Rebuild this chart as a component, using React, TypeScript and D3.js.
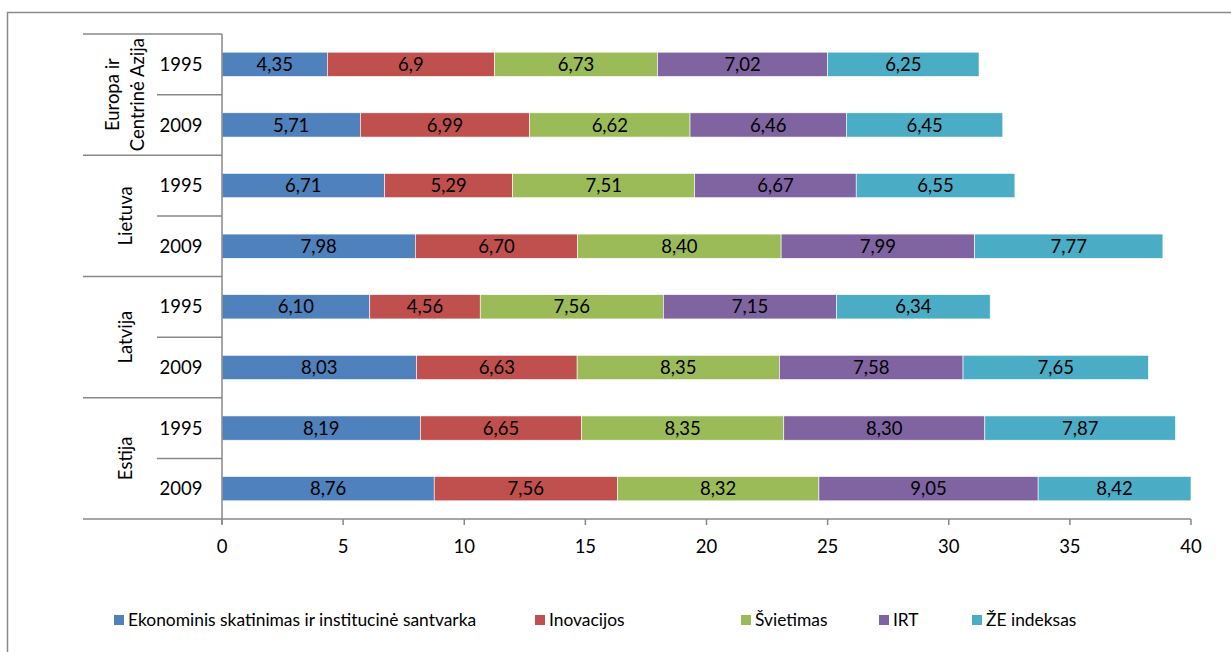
import React from "react";
import * as d3 from "d3";

const groups = ["Europa ir Centrinė Azija", "Lietuva", "Latvija", "Estija"];
const groupLines = [["Europa ir", "Centrinė Azija"], ["Lietuva"], ["Latvija"], ["Estija"]];
const years = ["1995", "2009"];
const seriesNames = [
  "Ekonominis skatinimas ir institucinė santvarka",
  "Inovacijos",
  "Švietimas",
  "IRT",
  "ŽE indeksas",
];
const colors = ["#4F81BD", "#C0504D", "#9BBB59", "#8064A2", "#4BACC6"];

// rows top to bottom: group x year
const ekonominis = [4.35, 5.71, 6.71, 7.98, 6.1, 8.03, 8.19, 8.76];
const inovacijos = [6.9, 6.99, 5.29, 6.7, 4.56, 6.63, 6.65, 7.56];
const svietimas = [6.73, 6.62, 7.51, 8.4, 7.56, 8.35, 8.35, 8.32];
const irt = [7.02, 6.46, 6.67, 7.99, 7.15, 7.58, 8.3, 9.05];
const zeIndeksas = [6.25, 6.45, 6.55, 7.77, 6.34, 7.65, 7.87, 8.42];

const labelsEkonominis = ["4,35", "5,71", "6,71", "7,98", "6,10", "8,03", "8,19", "8,76"];
const labelsInovacijos = ["6,9", "6,99", "5,29", "6,70", "4,56", "6,63", "6,65", "7,56"];
const labelsSvietimas = ["6,73", "6,62", "7,51", "8,40", "7,56", "8,35", "8,35", "8,32"];
const labelsIrt = ["7,02", "6,46", "6,67", "7,99", "7,15", "7,58", "8,30", "9,05"];
const labelsZe = ["6,25", "6,45", "6,55", "7,77", "6,34", "7,65", "7,87", "8,42"];

const xTicks = [0, 5, 10, 15, 20, 25, 30, 35, 40];

const W = 1231;
const H = 652;
const FONT = "Lato, Carlito, 'Open Sans', sans-serif";

export default function App() {
  const series = [ekonominis, inovacijos, svietimas, irt, zeIndeksas];
  const labels = [labelsEkonominis, labelsInovacijos, labelsSvietimas, labelsIrt, labelsZe];
  const rows = ekonominis.map((_, i) => {
    const r: any = { idx: String(i) };
    seriesNames.forEach((n, s) => (r[n] = series[s][i]));
    return r;
  });
  const stacked = d3.stack<any>().keys(seriesNames)(rows);

  const xMax = 40;
  const x = d3.scaleLinear().domain([0, xMax]).range([222, 1191]);
  const plotTop = 34;
  const plotBottom = 519;
  const y = d3
    .scaleBand<string>()
    .domain(rows.map((r) => r.idx))
    .range([plotTop, plotBottom])
    .paddingInner(0.6)
    .paddingOuter(0.3);
  const rowH = (plotBottom - plotTop) / rows.length;
  const axisColor = "#888888";

  const legendX = [114, 535, 741, 879, 972];

  return (
    <svg
      width={W}
      height={H}
      style={{ position: "absolute", left: 0, top: 0, background: "#fff" }}
      fontFamily={FONT}
    >
      <rect x={0} y={0} width={W} height={H} fill="#fff" />
      {/* frame */}
      <path d={`M7.5,${H} V12.5 H${W}`} fill="none" stroke="#8a8a8a" strokeWidth={1.5} />

      {/* bars */}
      {stacked.map((layer, s) => (
        <g key={s}>
          {layer.map((d, i) => {
            const v0 = Math.min(d[0], xMax);
            const v1 = Math.min(d[1], xMax);
            const x0 = x(v0);
            const x1 = x(v1);
            const yy = y(String(i))!;
            return (
              <g key={i}>
                <rect
                  x={x0}
                  y={yy}
                  width={x1 - x0}
                  height={y.bandwidth()}
                  fill={colors[s]}
                  stroke="#ffffff"
                  strokeWidth={0.6}
                />
                <text
                  x={(x0 + x1) / 2}
                  y={yy + y.bandwidth() / 2}
                  dy="0.36em"
                  textAnchor="middle"
                  fontSize={18.5}
                  fill="#000"
                >
                  {labels[s][i]}
                </text>
              </g>
            );
          })}
        </g>
      ))}

      {/* category axis */}
      <line x1={222} x2={222} y1={plotTop} y2={plotBottom + 5} stroke={axisColor} strokeWidth={1.5} />
      {rows.map((_, i) => {
        const yy = plotTop + i * rowH;
        const isGroup = i % 2 === 0;
        return (
          <line
            key={"c" + i}
            x1={isGroup ? 83 : 157}
            x2={222}
            y1={yy}
            y2={yy}
            stroke={axisColor}
            strokeWidth={1.5}
          />
        );
      })}
      <line x1={83} x2={222} y1={plotBottom} y2={plotBottom} stroke={axisColor} strokeWidth={1.5} />
      {rows.map((_, i) => (
        <text
          key={"yl" + i}
          x={181}
          y={plotTop + (i + 0.5) * rowH}
          dy="0.36em"
          textAnchor="middle"
          fontSize={18.5}
          fill="#000"
        >
          {years[i % 2]}
        </text>
      ))}
      {groups.map((g, gi) => {
        const cy = plotTop + (gi * 2 + 1) * rowH;
        const lines = groupLines[gi];
        const lh = 25;
        return (
          <text
            key={g}
            transform={`translate(${125 - ((lines.length - 1) * lh) / 2},${cy}) rotate(-90)`}
            textAnchor="middle"
            fontSize={18.5}
            fill="#000"
          >
            {lines.map((l, li) => (
              <tspan key={li} x={0} y={li * lh} dy="0.36em">
                {l}
              </tspan>
            ))}
          </text>
        );
      })}

      {/* value axis */}
      <line x1={222} x2={1191} y1={plotBottom} y2={plotBottom} stroke={axisColor} strokeWidth={1.5} />
      {xTicks.map((t) => (
        <g key={t}>
          <line x1={x(t)} x2={x(t)} y1={plotBottom} y2={plotBottom + 6} stroke={axisColor} strokeWidth={1.5} />
          <text x={x(t)} y={546} dy="0.36em" textAnchor="middle" fontSize={18.5} fill="#000">
            {t}
          </text>
        </g>
      ))}

      {/* legend */}
      {seriesNames.map((n, s) => (
        <g key={n}>
          <rect x={legendX[s]} y={615} width={10} height={10} fill={colors[s]} />
          <text x={legendX[s] + 14} y={620} dy="0.36em" fontSize={17.4} fill="#000">
            {n}
          </text>
        </g>
      ))}
    </svg>
  );
}
